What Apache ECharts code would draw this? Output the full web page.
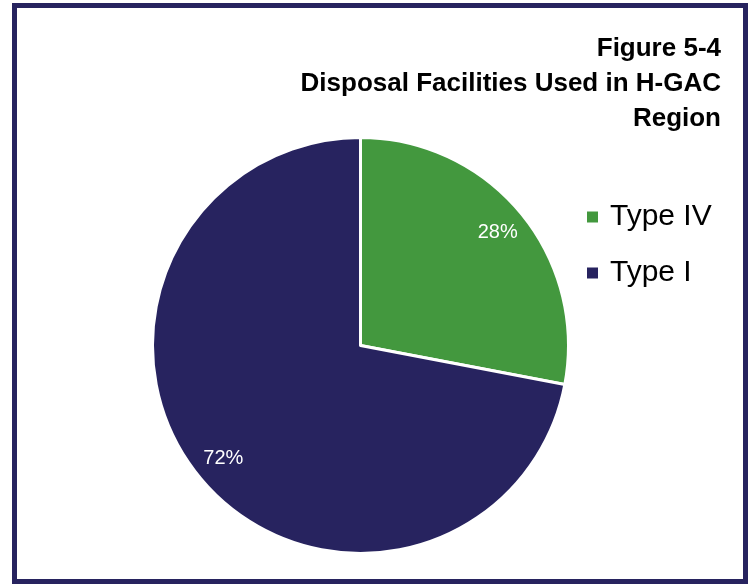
<!DOCTYPE html>
<html>
<head>
<meta charset="utf-8">
<style>
html,body{margin:0;padding:0;background:#fff;}
#chart{width:749px;height:584px;}
</style>
<script src="https://cdn.jsdelivr.net/npm/echarts@6/dist/echarts.min.js"></script>
</head>
<body>
<div id="chart"></div>
<script>
const categories = ['Type IV', 'Type I'];
const values = [28, 72];
const colors = ['#43983E', '#27235F'];
const titleLines = ['Figure 5-4', 'Disposal Facilities Used in H-GAC', 'Region'];

const FONT = '"Liberation Sans", Arial, sans-serif';
const chart = echarts.init(document.getElementById('chart'), null, {renderer: 'canvas'});
const data = categories.map((c, i) => ({name: c, value: values[i], itemStyle: {color: colors[i]}}));

chart.setOption({
  backgroundColor: '#fff',
  animation: false,
  legend: {
    orient: 'vertical',
    left: 580,
    top: 197,
    itemWidth: 13,
    itemHeight: 13,
    itemGap: 26,
    icon: 'rect',
    data: categories,
    textStyle: {
      fontFamily: FONT,
      fontSize: 30,
      color: '#000',
      padding: [0, 0, 0, 6]
    }
  },
  graphic: [{
    type: 'rect',
    shape: {x: 14.5, y: 5.5, width: 731, height: 576},
    style: {fill: 'none', stroke: '#27235F', lineWidth: 5},
    silent: true
  }, {
    type: 'text',
    x: 721,
    y: 31,
    silent: true,
    style: {
      text: titleLines.join('\n'),
      align: 'right',
      verticalAlign: 'top',
      font: 'bold 26px ' + FONT,
      lineHeight: 35,
      fill: '#000'
    }
  }],
  series: [{
    type: 'pie',
    center: [360.5, 345.5],
    radius: [0, 208],
    startAngle: 90,
    clockwise: true,
    silent: true,
    itemStyle: {borderColor: '#fff', borderWidth: 3},
    label: {show: false},
    labelLine: {show: false},
    data: data
  }, {
    type: 'pie',
    center: [360.5, 345.5],
    radius: [142, 208],
    startAngle: 90,
    clockwise: true,
    silent: true,
    legendHoverLink: false,
    itemStyle: {color: 'transparent', borderWidth: 0},
    label: {
      show: true,
      position: 'inside',
      formatter: '{d}%',
      color: '#fff',
      fontFamily: FONT,
      fontSize: 20
    },
    labelLine: {show: false},
    data: categories.map((c, i) => ({name: c, value: values[i]}))
  }]
});
</script>
</body>
</html>
